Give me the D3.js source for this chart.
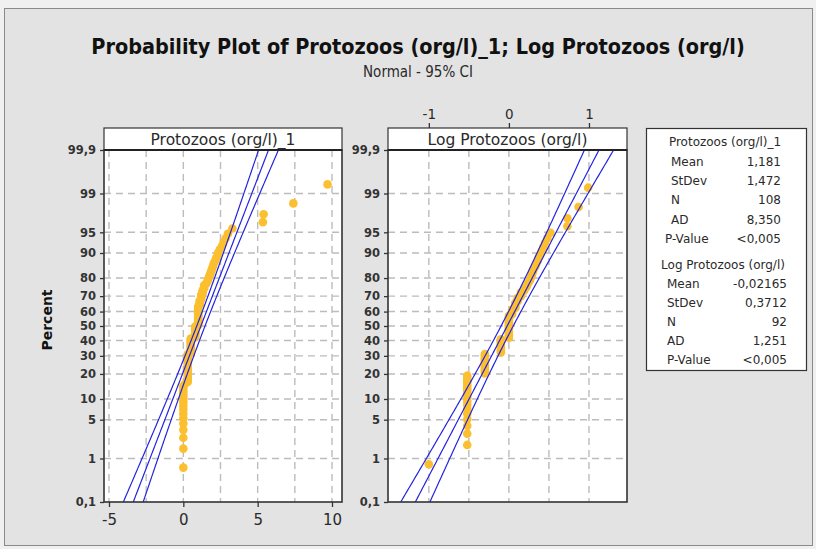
<!DOCTYPE html>
<html><head><meta charset="utf-8">
<script src="https://cdn.jsdelivr.net/npm/d3@7"></script>
<style>
body{margin:0;background:#f0f0f0;}
svg{display:block;font-family:"DejaVu Sans",sans-serif;}
</style>
</head><body>
<svg id="c" width="816" height="549"></svg>
<script>
// ---------------- DATA ----------------
const titleText = "Probability Plot of Protozoos (org/l)_1; Log Protozoos (org/l)";
const subtitleText = "Normal - 95% CI";
const percentTicks = [0.1, 1, 5, 10, 20, 30, 40, 50, 60, 70, 80, 90, 95, 99, 99.9];
const percentLabels = ["0,1","1","5","10","20","30","40","50","60","70","80","90","95","99","99,9"];
const percentGrid = [1, 5, 10, 20, 30, 40, 50, 60, 70, 80, 90, 95, 99];

const protoTicks = [-5, 0, 5, 10];
const protoTickLabels = ["-5", "0", "5", "10"];
const protoGrid = [-5, -2.5, 0, 2.5, 5, 7.5, 10];
const logTicks = [-1, 0, 1];
const logTickLabels = ["-1", "0", "1"];
const logGrid = [-1, -0.5, 0, 0.5, 1];

// Protozoos (org/l)_1 — 108 sorted observations
const protoValues = [
  0,0,0,0,0,0,0,0,0,0,0,0,0,0,0,0,
  0.1,
  0.3,0.3,0.3,0.3,0.3,0.3,0.3,0.3,0.3,0.3,0.3,0.3,0.3,0.3,0.3,0.3,0.3,
  0.5,0.5,0.5,0.5,0.5,0.5,0.5,0.5,0.5,0.5,0.5,
  0.8,0.8,0.8,0.8,0.8,0.8,0.8,0.8,0.8,
  1,1,1,1,1,1,1,1,1,1,1,1,1,1,1,
  1.1,1.1,1.1,1.1,
  1.2,1.2,1.2,1.2,
  1.3,1.3,1.3,
  1.4,1.4,1.4,
  1.55,1.6,1.65,1.7,1.75,1.8,1.85,1.9,1.95,2.0,2.05,2.15,2.2,2.3,2.35,2.45,2.6,2.7,2.85,3.0,3.3,
  5.35,5.4,7.4,9.7
];
// Log Protozoos (org/l) — 92 sorted observations
const logValues = [
  -1.0,
  -0.52,-0.52,-0.52,-0.52,-0.52,-0.52,-0.52,-0.52,-0.52,-0.52,-0.52,-0.52,-0.52,-0.52,-0.52,-0.52,-0.52,
  -0.30,-0.30,-0.30,-0.30,-0.30,-0.30,-0.30,-0.30,-0.30,-0.30,-0.30,
  -0.10,-0.10,-0.10,-0.10,-0.10,-0.10,-0.10,-0.10,-0.10,
  0,0,0,0,0,0,0,0,0,0,0,0,0,0,0,
  0.04,0.04,0.04,0.04,
  0.08,0.08,0.08,0.08,
  0.11,0.11,0.11,
  0.15,0.15,0.15,
  0.19,0.20,0.22,0.23,0.24,0.26,0.27,0.28,0.29,0.30,0.31,0.33,0.34,0.36,0.37,0.39,0.41,0.43,0.45,0.48,0.52,
  0.73,0.73,0.87,0.99
];

const statLabels = ["Mean","StDev","N","AD","P-Value"];
const protoStatText = ["1,181","1,472","108","8,350","<0,005"];
const logStatText = ["-0,02165","0,3712","92","1,251","<0,005"];
const protoFit = {mean: 1.181, sd: 1.472, n: 108};
const logFit = {mean: -0.02165, sd: 0.3712, n: 92};

// ---------------- HELPERS ----------------
function qnorm(p){
  const a=[-3.969683028665376e+01,2.209460984245205e+02,-2.759285104469687e+02,1.383577518672690e+02,-3.066479806614716e+01,2.506628277459239e+00];
  const b=[-5.447609879822406e+01,1.615858368580409e+02,-1.556989798598866e+02,6.680131188771972e+01,-1.328068155288572e+01];
  const c=[-7.784894002430293e-03,-3.223964580411365e-01,-2.400758277161838e+00,-2.549732539343734e+00,4.374664141464968e+00,2.938163982698783e+00];
  const d=[7.784695709041462e-03,3.224671290700398e-01,2.445134137142996e+00,3.754408661907416e+00];
  const pl=0.02425; let q,r;
  if(p<pl){q=Math.sqrt(-2*Math.log(p));return (((((c[0]*q+c[1])*q+c[2])*q+c[3])*q+c[4])*q+c[5])/((((d[0]*q+d[1])*q+d[2])*q+d[3])*q+1);}
  if(p<=1-pl){q=p-0.5;r=q*q;return (((((a[0]*r+a[1])*r+a[2])*r+a[3])*r+a[4])*r+a[5])*q/(((((b[0]*r+b[1])*r+b[2])*r+b[3])*r+b[4])*r+1);}
  q=Math.sqrt(-2*Math.log(1-p));return -(((((c[0]*q+c[1])*q+c[2])*q+c[3])*q+c[4])*q+c[5])/((((d[0]*q+d[1])*q+d[2])*q+d[3])*q+1);
}
const medianRank = (i, n) => (i + 1 - 0.3) / (n + 0.4);

// ---------------- LAYOUT ----------------
const svg = d3.select("#c");
const textCol = "#2a2a2a";
const gridCol = "#bcbcbc";
const ptCol = "#fbbf2f";
const lineCol = "#2424e0";

svg.append("rect").attr("x",4.5).attr("y",8.5).attr("width",808).attr("height",537)
  .attr("fill","#e3e3e3").attr("stroke","#8a8a8a").attr("stroke-width",1);

const title = svg.append("text").attr("x",418).attr("y",54).attr("text-anchor","middle")
  .attr("font-family","'DejaVu Sans Condensed','DejaVu Sans',sans-serif").attr("font-weight","bold")
  .attr("font-size",19).attr("fill","#111").text(titleText);
const tw = title.node().getComputedTextLength();
title.attr("font-size", 19*654/tw);

svg.append("text").attr("x",418).attr("y",77).attr("text-anchor","middle")
  .attr("font-family","'DejaVu Sans Condensed','DejaVu Sans',sans-serif")
  .attr("font-size",15).attr("fill",textCol).text(subtitleText);

svg.append("text").attr("transform","translate(52,320) rotate(-90)").attr("text-anchor","middle")
  .attr("font-weight","bold").attr("font-size",14).attr("fill","#111").text("Percent");

const yTop = 150, yBot = 502, yHead = 128;
const y = d3.scaleLinear().domain([qnorm(0.001), qnorm(0.999)]).range([yBot, yTop]);

function panel(cfg){
  const {x0, x1, domain, values, fit, grid, ticks, tickLabels, axisPos, label, id} = cfg;
  const x = d3.scaleLinear().domain(domain).range([x0, x1]);
  const g = svg.append("g");
  g.append("rect").attr("x",x0).attr("y",yTop).attr("width",x1-x0).attr("height",yBot-yTop).attr("fill","#fff");
  // grid
  g.selectAll(".hg").data(percentGrid).join("line")
    .attr("x1",x0).attr("x2",x1).attr("y1",d=>y(qnorm(d/100))).attr("y2",d=>y(qnorm(d/100)))
    .attr("stroke",gridCol).attr("stroke-width",1.4).attr("stroke-dasharray","7,5");
  g.selectAll(".vg").data(grid).join("line")
    .attr("y1",yTop).attr("y2",yBot).attr("x1",d=>x(d)).attr("x2",d=>x(d))
    .attr("stroke",gridCol).attr("stroke-width",1.4).attr("stroke-dasharray","7,5");
  // clip
  svg.append("clipPath").attr("id",id).append("rect").attr("x",x0).attr("y",yTop).attr("width",x1-x0).attr("height",yBot-yTop);
  // points
  const n = values.length;
  g.append("g").selectAll("circle").data(values).join("circle")
    .attr("cx",d=>x(d)).attr("cy",(d,i)=>y(qnorm(medianRank(i,n))))
    .attr("r",4.3).attr("fill",ptCol);
  // fit + CI
  const zs = d3.range(-3.4, 3.41, 0.05);
  const se = z => fit.sd*Math.sqrt((1+z*z/2)/fit.n);
  const mk = k => d3.line().x(z=>x(fit.mean+fit.sd*z + k*1.96*se(z))).y(z=>y(z));
  const lg = g.append("g").attr("clip-path",`url(#${id})`);
  [-1,0,1].forEach(k=>{
    lg.append("path").attr("d",mk(k)(zs)).attr("fill","none").attr("stroke",lineCol).attr("stroke-width",1.2);
  });
  // border
  g.append("rect").attr("x",x0).attr("y",yTop).attr("width",x1-x0).attr("height",yBot-yTop)
    .attr("fill","none").attr("stroke","#333").attr("stroke-width",1.6);
  // header
  g.append("rect").attr("x",x0).attr("y",yHead).attr("width",x1-x0).attr("height",yTop-yHead)
    .attr("fill","#fff").attr("stroke","#333").attr("stroke-width",1.2);
  g.append("line").attr("x1",x0).attr("x2",x1).attr("y1",yTop).attr("y2",yTop).attr("stroke","#222").attr("stroke-width",2);
  g.append("text").attr("x",(x0+x1)/2).attr("y",yHead+17).attr("text-anchor","middle")
    .attr("font-size",15.5).attr("fill",textCol).text(label);
  // y axis
  const ya = g.append("g").attr("transform",`translate(${x0},0)`)
    .call(d3.axisLeft(y).tickValues(percentTicks.map(p=>qnorm(p/100))).tickFormat((d,i)=>percentLabels[i]).tickSize(4).tickSizeOuter(0));
  ya.select(".domain").remove();
  ya.selectAll("text").attr("font-size",11.5).attr("font-weight","bold").attr("fill","#333").attr("font-family","'DejaVu Sans',sans-serif").attr("dx",-1);
  ya.selectAll("line").attr("stroke","#333").attr("stroke-width",1.3);
  // x axis
  let xa;
  if(axisPos==="bottom"){
    xa = g.append("g").attr("transform",`translate(0,${yBot})`)
      .call(d3.axisBottom(x).tickValues(ticks).tickFormat((d,i)=>tickLabels[i]).tickSize(5).tickSizeOuter(0));
    xa.selectAll("text").attr("font-size",15).attr("dy","1.0em");
  } else {
    xa = g.append("g").attr("transform",`translate(0,${yHead})`)
      .call(d3.axisTop(x).tickValues(ticks).tickFormat((d,i)=>tickLabels[i]).tickSize(5).tickSizeOuter(0));
    xa.selectAll("text").attr("font-size",13.5).attr("dy","-0.1em");
  }
  xa.select(".domain").remove();
  xa.selectAll("text").attr("fill",textCol).attr("font-family","'DejaVu Sans',sans-serif");
  xa.selectAll("line").attr("stroke","#333").attr("stroke-width",1.3);
}

panel({x0:104, x1:342, domain:[-5.336, 10.673], values:protoValues, fit:protoFit,
  grid:protoGrid, ticks:protoTicks, tickLabels:protoTickLabels, axisPos:"bottom", label:"Protozoos (org/l)_1", id:"clipA"});
panel({x0:388, x1:627, domain:[-1.51, 1.475], values:logValues, fit:logFit,
  grid:logGrid, ticks:logTicks, tickLabels:logTickLabels, axisPos:"top", label:"Log Protozoos (org/l)", id:"clipB"});

// ---------------- LEGEND ----------------
const lg = svg.append("g").attr("font-size",12).attr("fill",textCol);
lg.append("rect").attr("x",646.5).attr("y",128.5).attr("width",160).attr("height",242)
  .attr("fill","#fff").attr("stroke","#333").attr("stroke-width",1.2);
lg.append("text").attr("x",725).attr("y",146).attr("text-anchor","middle").text("Protozoos (org/l)_1");
statLabels.forEach((s,i)=>{
  const yy = 166 + i*19.2;
  lg.append("text").attr("x", s==="P-Value"?665:671).attr("y",yy).text(s);
  lg.append("text").attr("x",781).attr("y",yy).attr("text-anchor","end").text(protoStatText[i]);
});
lg.append("text").attr("x",723).attr("y",269).attr("text-anchor","middle").text("Log Protozoos (org/l)");
statLabels.forEach((s,i)=>{
  const yy = 287.5 + i*19.2;
  lg.append("text").attr("x",667).attr("y",yy).text(s);
  lg.append("text").attr("x",787).attr("y",yy).attr("text-anchor","end").text(logStatText[i]);
});
</script>
</body></html>
